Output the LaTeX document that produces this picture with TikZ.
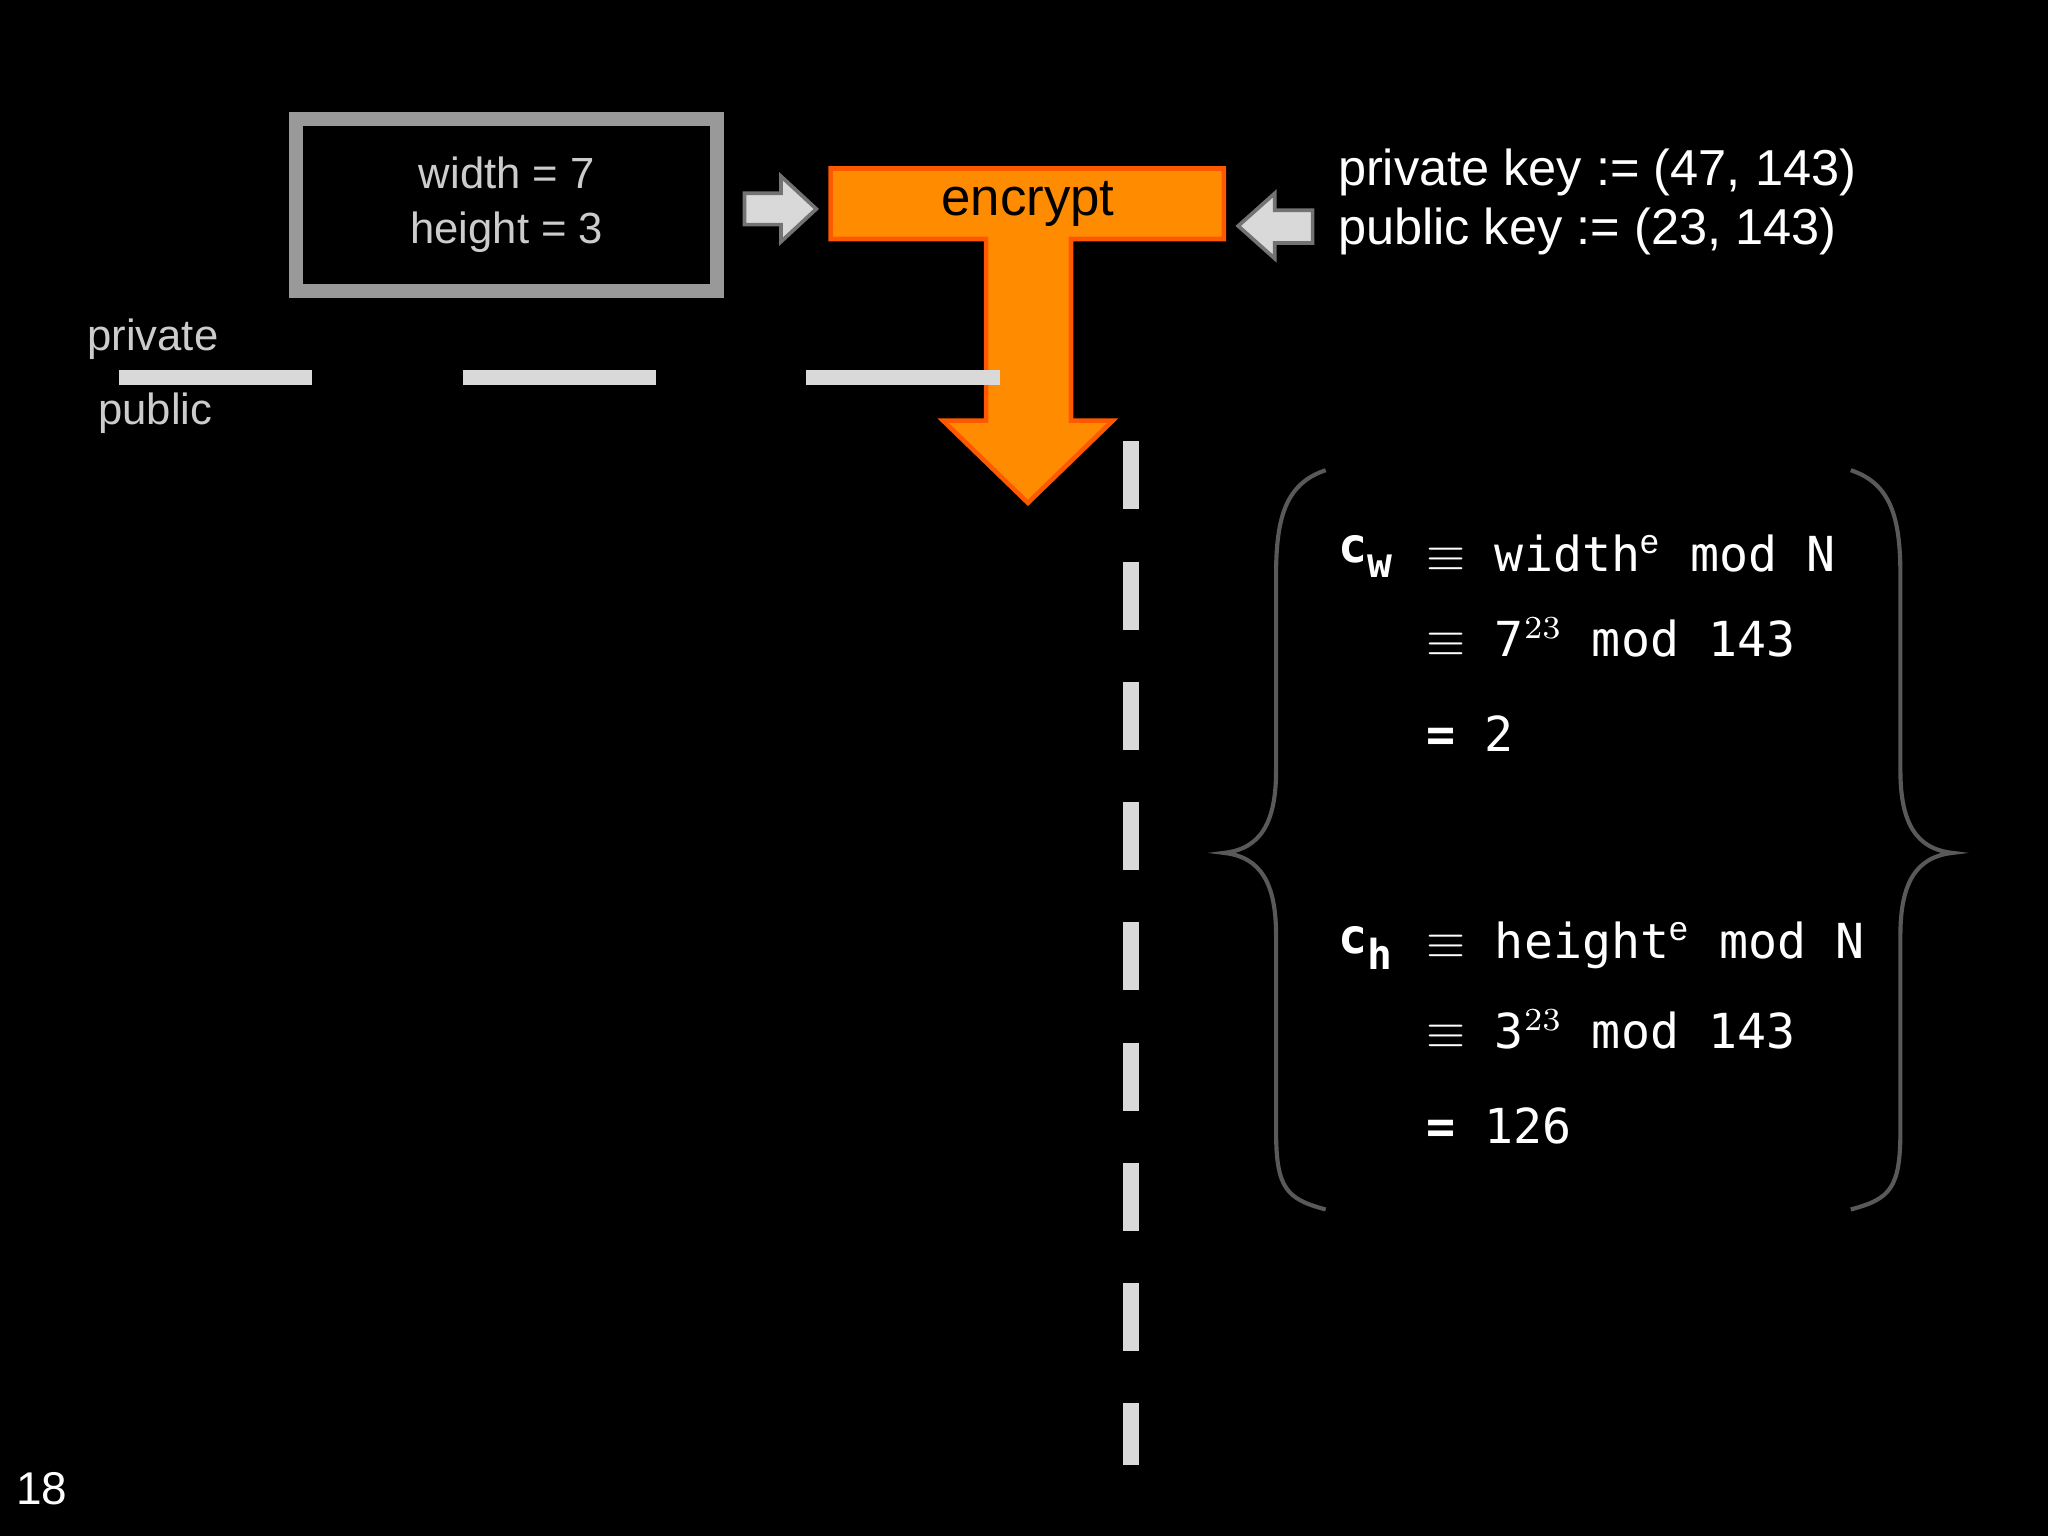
\documentclass[tikz,border=0pt]{standalone}
\usepackage{fontspec}
\setmainfont{Liberation Sans}
\newfontfamily\mono{DejaVu Sans Mono}
\begin{document}
\begin{tikzpicture}[x=0.01cm,y=-0.01cm,
  lbl/.style={text=white!80!black,font=\fontsize{9.5}{12}\selectfont},
  key/.style={text=white,font=\fontsize{11}{13}\selectfont,anchor=west},
  mth/.style={text=white,font=\mono\fontsize{10.5}{12}\selectfont,anchor=west},
  dsh/.style={draw=white!85!black,line width=3.4pt,dash pattern=on 1.48cm off 1.15cm},
  gar/.style={fill=white!85!black,draw=white!45!black,line width=0.8pt},
  brace/.style={draw=white!35!black,line width=0.9pt}]
\fill[black] (0,0) rectangle (1568,1176);
\useasboundingbox (0,0) rectangle (1568,1176);
% box
\node[draw=white!60!black,line width=3pt,minimum width=3.22cm,minimum height=1.32cm,align=center,lbl] (box) at (388,157) {width = 7\\height = 3};
% small arrows
\path[gar] (570,148) -- (598,148) -- (598,135) -- (625,160) -- (598,185) -- (598,172) -- (570,172) -- cycle;
\path[gar] (1005,161) -- (976,161) -- (976,148) -- (948,173) -- (976,198) -- (976,186) -- (1005,186) -- cycle;
% T arrow
\path[fill=orange!90!yellow,draw=orange!70!red,line width=1pt] (636,129) -- (937,129) -- (937,183) -- (820,183) -- (820,322) -- (852,322) -- (787,385) -- (722,322) -- (755,322) -- (755,183) -- (636,183) -- cycle;
\node[font=\fontsize{11.5}{13}\selectfont,text=black] (enc) at (787,156) {encrypt};
% keys
\node[key] (k1) at (1012,132) {private key := (47, 143)};
\node[key] (k2) at (1012,177) {public key := (23, 143)};
% labels
\node[lbl] (pv) at (117,260) {private};
\node[lbl] (pb) at (119,316) {public};
% dashed lines
\draw[dsh] (91,289) -- (875,289);
\draw[dsh,dash pattern=on 0.52cm off 0.4cm] (866,338) -- (866,1122);
% braces
\draw[brace] (1015,360) .. controls (985,370) and (977,395) .. (977,440) -- (977,590) .. controls (977,630) and (965,650) .. (937,653) .. controls (965,656) and (977,676) .. (977,716) -- (977,866) .. controls (977,910) and (985,918) .. (1015,926);
\draw[brace] (1417,360) .. controls (1447,370) and (1455,395) .. (1455,440) -- (1455,590) .. controls (1455,630) and (1467,650) .. (1495,653) .. controls (1467,656) and (1455,676) .. (1455,716) -- (1455,866) .. controls (1455,910) and (1447,918) .. (1417,926);
% math
\node[mth] (cw) at (1012,426) {\textbf{c}\raisebox{-0.6ex}{\small\textbf{w}}};
\node[mth] (l1) at (1080,424) {$\equiv$ width$^{\mathrm{e}}$ mod N};
\node[mth] (l2) at (1080,488) {$\equiv$ 7$^{23}$ mod 143};
\node[mth] (l3) at (1080,562) {\textbf{=} 2};
\node[mth] (ch) at (1012,726) {\textbf{c}\raisebox{-0.6ex}{\small\textbf{h}}};
\node[mth] (l4) at (1080,724) {$\equiv$ height$^{\mathrm{e}}$ mod N};
\node[mth] (l5) at (1080,788) {$\equiv$ 3$^{23}$ mod 143};
\node[mth] (l6) at (1080,862) {\textbf{=} 126};
\node[text=white,font=\fontsize{10}{12}\selectfont] (pg) at (32,1140) {18};
\end{tikzpicture}
\end{document}
